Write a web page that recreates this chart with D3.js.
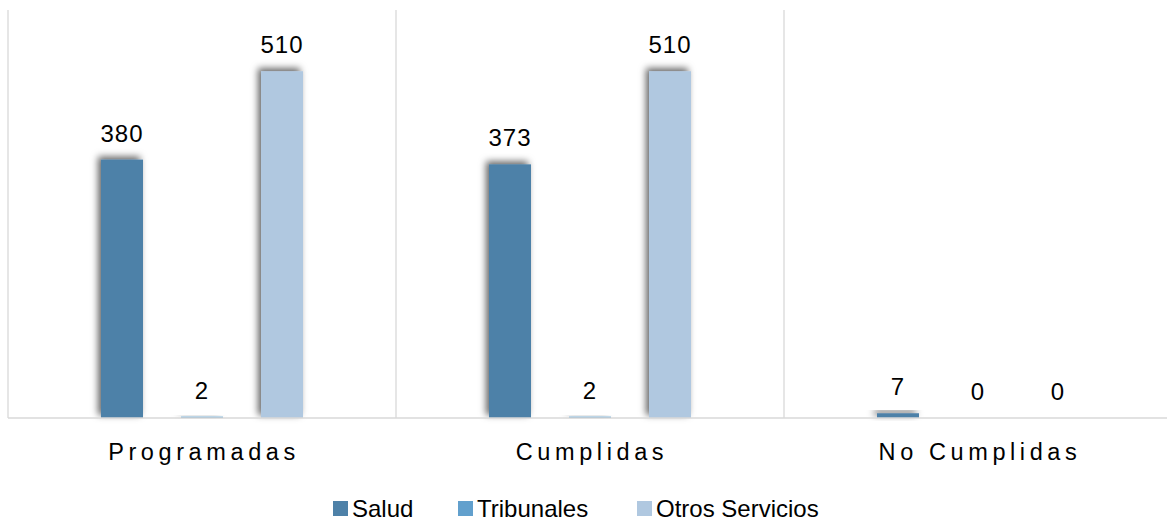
<!DOCTYPE html>
<html>
<head>
<meta charset="utf-8">
<script src="https://cdn.jsdelivr.net/npm/d3@7"></script>
<style>
  body { margin: 0; background: #fff; }
  text { font-family: "Liberation Sans", Arial, sans-serif; fill: #000; }
</style>
</head>
<body>
<div id="chart"></div>
<script>
const categorias = ["Programadas", "Cumplidas", "No Cumplidas"]
const series = ["Salud", "Tribunales", "Otros Servicios"]
const salud = [380, 373, 7]
const tribunales = [2, 2, 0]
const otros = [510, 510, 0]
const colores = ["#4e81a8", "#62a0cd", "#b0c8e0"]

const ancho = 1167
const alto = 525
const margen = { izquierdo: 8, derecho: -5, superior: 10, inferior: 107 }

const svg = d3.select("#chart").append("svg").attr("width", ancho).attr("height", alto)

const defs = svg.append("defs")
const sombra = defs.append("filter").attr("id", "sombra")
    .attr("x", "-50%").attr("y", "-50%").attr("width", "200%").attr("height", "200%")
sombra.append("feDropShadow").attr("dx", -3).attr("dy", -3)
    .attr("stdDeviation", 3.5).attr("flood-color", "#000").attr("flood-opacity", 0.6)

const x = d3.scaleBand().domain(categorias)
    .range([margen.izquierdo, ancho - margen.derecho])
const x1 = d3.scaleBand().domain(series)
    .range([93, 295]).paddingInner(0.475)
const y = d3.scaleLinear().domain([0, 600]).range([alto - margen.inferior, margen.superior])

// lineas de division verticales
const grid = svg.append("g")
grid.selectAll("line").data(categorias).enter().append("line")
    .attr("x1", d => x(d))
    .attr("x2", d => x(d))
    .attr("y1", margen.superior).attr("y2", y(0))
    .attr("stroke", "#d9d9d9").attr("stroke-width", 1.3)

const datos = categorias.map((c, i) => ({
    categoria: c,
    valores: [salud[i], tribunales[i], otros[i]].map((v, j) => ({ serie: series[j], valor: v, color: colores[j] }))
}))

const grupos = svg.selectAll("g.cat").data(datos).enter().append("g")
    .attr("class", "cat")
    .attr("transform", d => `translate(${x(d.categoria)},0)`)

grupos.selectAll("rect").data(d => d.valores.filter(v => v.valor > 0)).enter().append("rect")
    .attr("x", d => x1(d.serie))
    .attr("width", x1.bandwidth())
    .attr("y", d => y(d.valor))
    .attr("height", d => y(0) - y(d.valor))
    .attr("fill", d => d.color)
    .attr("filter", "url(#sombra)")

grupos.selectAll("text").data(d => d.valores).enter().append("text")
    .attr("x", d => x1(d.serie) + x1.bandwidth() / 2)
    .attr("y", d => y(d.valor) - 18)
    .attr("text-anchor", "middle")
    .style("font-size", "24px")
    .style("letter-spacing", "1px")
    .text(d => d.valor)

// linea base
svg.append("line")
    .attr("x1", margen.izquierdo).attr("x2", ancho)
    .attr("y1", y(0)).attr("y2", y(0))
    .attr("stroke", "#d9d9d9").attr("stroke-width", 1.5)

// etiquetas de categoria
svg.selectAll("text.cat").data(categorias).enter().append("text")
    .attr("class", "cat")
    .attr("x", d => x(d) + x.bandwidth() / 2 + 2)
    .attr("y", 460)
    .attr("text-anchor", "middle")
    .style("font-size", "23.5px")
    .style("letter-spacing", "4.6px")
    .text(d => d)

// leyenda
const leyendaX = [333, 458, 637]
const leyenda = svg.selectAll("g.ley").data(series).enter().append("g")
    .attr("class", "ley")
    .attr("transform", (d, i) => `translate(${leyendaX[i]},501)`)
leyenda.append("rect").attr("width", 15).attr("height", 15).attr("fill", (d, i) => colores[i])
leyenda.append("text").attr("x", 19).attr("y", 16)
    .style("font-size", "24px")
    .text(d => d)
</script>
</body>
</html>
